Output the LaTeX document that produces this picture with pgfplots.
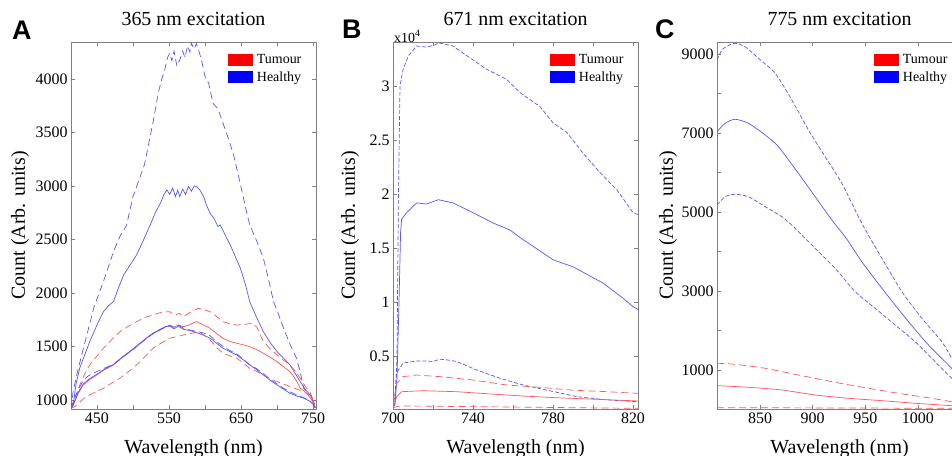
\documentclass[border=0pt]{standalone}
\usepackage{fontspec}
\setmainfont{Liberation Serif}
\newfontfamily\panelfont{Liberation Sans}
\usepackage{pgfplots}
\pgfplotsset{compat=1.18}

\definecolor{tum}{RGB}{255,85,85}
\definecolor{hea}{RGB}{85,85,255}

\pgfplotsset{
  panel/.style={
    scale only axis, width=245bp, height=367bp,
    axis line style={gray}, tick style={gray, line width=0.6bp},
    tick align=inside, major tick length=4bp, minor tick length=4bp,
    ticklabel style={font=\fontsize{16}{18}\selectfont},
    /pgf/number format/assume math mode=true,
    /pgf/number format/1000 sep={},
    scaled ticks=false,
    label style={font=\fontsize{20}{24}\selectfont},
    title style={font=\fontsize{20}{24}\selectfont,
      at={([yshift=11bp]axis description cs:0.5,1)}, anchor=base},
    xlabel style={at={([yshift=-44bp]axis description cs:0.5,0)}, anchor=base},
    xlabel={Wavelength (nm)}, ylabel={Count (Arb. units)},
    legend style={at={(0.641,0.973)}, anchor=north west, draw=none, fill=none,
      inner sep=0pt, font=\fontsize{14}{16}\selectfont, row sep=3bp, column sep=2bp},
    legend cell align=left,
    clip mode=individual,
    every axis plot/.append style={line width=0.7bp},
  },
  tdash/.style={dash pattern=on 7bp off 4bp},
  sdash/.style={dash pattern=on 4bp off 2bp},
}

\newcommand{\legendpatches}{%
  \addlegendimage{legend image code/.code={\fill[red] (0bp,-5.5bp) rectangle (24bp,5.5bp);}}
  \addlegendentry{Tumour}
  \addlegendimage{legend image code/.code={\fill[blue] (0bp,-5.5bp) rectangle (24bp,5.5bp);}}
  \addlegendentry{Healthy}
}

\begin{document}
\begin{tikzpicture}

% ---------------- A: 365 nm ----------------
\begin{axis}[panel, at={(71bp,-409bp)}, anchor=south west,
  title={365 nm excitation},
  ylabel style={at={([xshift=-51bp]axis description cs:0,0.5)}, anchor=center},
  xmin=414, xmax=754, ymin=915, ymax=4345,
  xtick={450,550,650,750}, minor xtick={500,600,700},
  ytick={1000,1500,...,4000}]
\legendpatches
\addplot[hea, tdash, forget plot] coordinates {
 (414,920) (417,1080) (422,1234) (430,1450) (436,1607) (446,1870) (459,2106)
 (473,2386) (482,2530) (491,2630) (500,2900) (510,3087) (516,3200) (521,3367)
 (528,3600) (535,3866) (540,4000) (544,4084) (548,4200) (551,4240) (554,4170)
 (557,4260) (561,4120) (565,4178) (569,4260) (572,4200) (576,4310) (579,4250)
 (581,4334) (585,4280) (588,4330) (592,4250) (596,4150) (600,4022) (605,3960)
 (611,3773) (618,3720) (625,3586) (632,3450) (639,3306) (648,3050) (658,2745)
 (662,2636) (672,2480) (681,2324) (688,2130) (695,1919) (702,1800) (709,1670)
 (718,1520) (727,1390) (732,1260) (737,1109) (742,1060) (746,1047) (750,1000)
 (753,925)};
\addplot[hea, forget plot] coordinates {
 (414,920) (417,953) (421,1150) (426,1296) (433,1420) (440,1545) (450,1700)
 (459,1825) (466,1880) (473,1919) (480,2050) (487,2168) (496,2260) (505,2355)
 (515,2500) (524,2636) (531,2750) (538,2838) (543,2920) (547,2963) (551,2920)
 (555,2980) (559,2900) (562,2960) (565,2900) (569,2970) (573,2920) (577,2994)
 (581,2950) (585,3000) (588,2994) (593,2960) (598,2900) (602,2820) (607,2745)
 (612,2700) (618,2620) (621,2636) (628,2540) (635,2449) (642,2340) (649,2231)
 (656,2080) (662,1919) (671,1780) (681,1638) (690,1540) (700,1451) (709,1390)
 (718,1327) (725,1250) (732,1171) (740,1090) (746,1047) (750,990) (753,925)};
\addplot[tum, tdash, forget plot] coordinates {
 (414,920) (417,970) (425,1120) (432,1230) (440,1327) (450,1410) (459,1483)
 (470,1560) (482,1638) (494,1690) (505,1731) (516,1770) (528,1794) (540,1820)
 (551,1825) (558,1790) (564,1810) (570,1780) (580,1820) (591,1857) (600,1840)
 (607,1825) (616,1780) (625,1731) (635,1710) (644,1700) (655,1705) (665,1716)
 (672,1680) (681,1545) (690,1480) (700,1421) (709,1370) (718,1327) (725,1270)
 (732,1203) (737,1150) (741,1109) (746,1070) (750,1000) (753,925)};
\addplot[tum, forget plot] coordinates {
 (414,920) (417,953) (424,1060) (431,1140) (440,1190) (450,1234) (460,1280)
 (473,1327) (484,1390) (496,1451) (507,1510) (519,1577) (528,1620) (538,1654)
 (545,1680) (551,1701) (557,1680) (563,1700) (570,1685) (578,1700) (584,1720)
 (588,1732) (595,1710) (601,1690) (607,1670) (616,1620) (625,1576) (635,1545)
 (644,1530) (653,1515) (662,1498) (672,1470) (681,1436) (690,1400) (700,1358)
 (709,1310) (718,1265) (725,1200) (730,1140) (732,1109) (738,1080) (743,1047)
 (748,1000) (753,925)};
\addplot[hea, forget plot] coordinates {
 (414,920) (417,950) (424,1070) (431,1150) (440,1200) (450,1240) (460,1285)
 (473,1330) (484,1395) (496,1455) (507,1515) (519,1580) (528,1625) (538,1660)
 (545,1685) (551,1690) (557,1665) (563,1690) (570,1660) (578,1650) (588,1630)
 (598,1605) (607,1577) (616,1530) (625,1483) (635,1450) (644,1420) (653,1375)
 (662,1327) (672,1280) (681,1234) (690,1185) (700,1140) (709,1100) (718,1062)
 (728,1035) (737,1016) (745,990) (750,960) (753,925)};
\addplot[hea, tdash, forget plot] coordinates {
 (414,920) (418,1000) (425,1110) (431,1180) (436,1215) (443,1245) (450,1265)
 (460,1295) (473,1335) (484,1390) (496,1450) (507,1510) (519,1575) (528,1620)
 (538,1660) (545,1680) (551,1695) (557,1680) (563,1700) (570,1670) (578,1655)
 (588,1640) (598,1625) (607,1600) (616,1545) (625,1500) (635,1460) (644,1430)
 (653,1380) (662,1330) (672,1290) (681,1245) (690,1195) (700,1150) (709,1110)
 (718,1075) (728,1045) (737,1020) (745,995) (750,960) (753,925)};
\addplot[tum, tdash, forget plot] coordinates {
 (414,920) (420,940) (431,1010) (440,1047) (450,1080) (459,1109) (470,1155)
 (482,1203) (494,1265) (505,1327) (516,1400) (528,1483) (540,1535) (551,1577)
 (560,1590) (570,1607) (580,1620) (591,1638) (600,1600) (607,1560) (616,1490)
 (625,1436) (635,1410) (644,1390) (653,1345) (662,1296) (672,1265) (681,1234)
 (690,1200) (700,1171) (709,1148) (718,1125) (728,1100) (737,1078) (745,1050)
 (750,990) (753,925)};
\end{axis}

% ---------------- B: 671 nm ----------------
\begin{axis}[panel, at={(393bp,-409bp)}, anchor=south west,
  title={671 nm excitation},
  ylabel style={at={([xshift=-43bp]axis description cs:0,0.5)}, anchor=center},
  xmin=700, xmax=822.5, ymin=160, ymax=34070,
  xtick={700,740,780,820}, minor xtick={720,760,800},
  ytick={5000,10000,15000,20000,25000,30000},
  yticklabels={0.5,1,1.5,2,2.5,3}]
\legendpatches
\node[anchor=base west, inner sep=0pt, xshift=1bp, font=\fontsize{14}{16}\selectfont]
  at (rel axis cs:0,1) {x10\textsuperscript{4}};
\addplot[hea, sdash, forget plot] coordinates {
 (700,300) (701,600) (702,5000) (702.7,19500) (703.5,30000) (705,31500)
 (707.7,32800) (711.8,33700) (716.8,33600) (721,33800) (722.7,34000) (730,33700)
 (738.5,32600) (746.8,31550) (757,30600) (763.5,29400) (773.5,28100) (780,26600)
 (787,25700) (795,23800) (803.5,22000) (812,20400) (820,18300) (823,18100)};
\addplot[hea, forget plot] coordinates {
 (700,300) (701,600) (702,3000) (703,10000) (703.8,16500) (704.3,17700)
 (706.8,18300) (711.8,19200) (716.8,19100) (722.7,19500) (730,19200) (740,18300)
 (750,17350) (758.5,16700) (763.5,16000) (770,15200) (780,13950) (790,13300)
 (805,11800) (815,10400) (820,9630) (823,9300)};
\addplot[hea, sdash, forget plot] coordinates {
 (700,300) (701,1500) (701.8,3500) (705,4400) (711.8,4600) (716,4600) (720,4550)
 (723.5,4760) (727,4700) (731.8,4550) (741.8,3770) (753.5,3000) (765,2380)
 (777,1900) (792,1300) (807,1000) (823,830)};
\addplot[tum, tdash, forget plot] coordinates {
 (700,300) (701,1500) (701.8,2500) (705,3150) (711.8,3300) (723.5,3150)
 (740,2840) (756.8,2380) (773.5,2160) (790,1900) (807,1760) (823,1600)};
\addplot[tum, forget plot] coordinates {
 (700,300) (701,800) (701.8,1300) (704.3,1760) (715,1850) (731.8,1760)
 (748.5,1550) (765,1360) (781.8,1200) (798.5,1080) (823,900)};
\addplot[tum, tdash, forget plot] coordinates {
 (700,250) (702,400) (705,440) (740,380) (780,300) (823,220)};
\end{axis}

% ---------------- C: 775 nm ----------------
\begin{axis}[panel, at={(717bp,-409bp)}, anchor=south west,
  title={775 nm excitation},
  ylabel style={at={([xshift=-49bp]axis description cs:0,0.5)}, anchor=center},
  xmin=809, xmax=1042, ymin=12, ymax=9304,
  xtick={850,900,950,1000},
  ytick={1000,3000,...,9000}, minor ytick={2000,4000,6000,8000},
  every axis plot/.append style={smooth, tension=0.4}]
\legendpatches
\addplot[hea, sdash, forget plot] coordinates {
 (809,8849) (813.7,9102) (820,9220) (826.2,9272) (835.7,9186) (848.4,8892)
 (864.3,8513) (880.2,7836) (896,7077) (911.8,6401) (927.7,5727) (946.7,4714)
 (965.8,3828) (984.8,2983) (1003.8,2309) (1022.8,1717) (1032.3,1296) (1042,870)};
\addplot[hea, forget plot] coordinates {
 (809,7034) (816.8,7247) (826.2,7348) (838.9,7247) (854.8,6950) (867.4,6654)
 (886.4,5980) (902.3,5388) (918.2,4798) (932,4330) (946.7,3742) (965.8,3069)
 (991.1,2223) (1010.1,1633) (1029.1,1127) (1042,750)};
\addplot[hea, sdash, forget plot] coordinates {
 (809,5178) (816.8,5388) (826.2,5449) (838.9,5388) (854.8,5135) (870.6,4881)
 (881.7,4628) (902.3,4081) (921.3,3575) (940.4,2983) (959.4,2562) (978.4,2140)
 (997.4,1717) (1013.3,1296) (1029.1,873) (1042,560)};
\addplot[tum, tdash, forget plot] coordinates {
 (809,1170) (826,1144) (854.8,1043) (886.4,873) (918.2,704) (949.9,552)
 (981.5,410) (1013.3,283) (1032.3,197) (1042,175)};
\addplot[tum, forget plot] coordinates {
 (809,603) (839,562) (870.6,494) (902.3,367) (934,283) (965.8,223) (997.4,157)
 (1032.3,96) (1042,80)};
\addplot[tum, tdash, forget plot] coordinates {
 (809,45) (900,40) (1000,32) (1042,30)};
\end{axis}

\node[anchor=base west, inner sep=0pt, font=\panelfont\bfseries\fontsize{27}{30}\selectfont] at (12bp,-39bp) {A};
\node[anchor=base west, inner sep=0pt, font=\panelfont\bfseries\fontsize{27}{30}\selectfont] at (342bp,-38bp) {B};
\node[anchor=base west, inner sep=0pt, font=\panelfont\bfseries\fontsize{27}{30}\selectfont] at (655bp,-38bp) {C};

\pgfresetboundingbox
\path[use as bounding box] (0bp,0bp) rectangle (952bp,-456bp);
\end{tikzpicture}
\end{document}
